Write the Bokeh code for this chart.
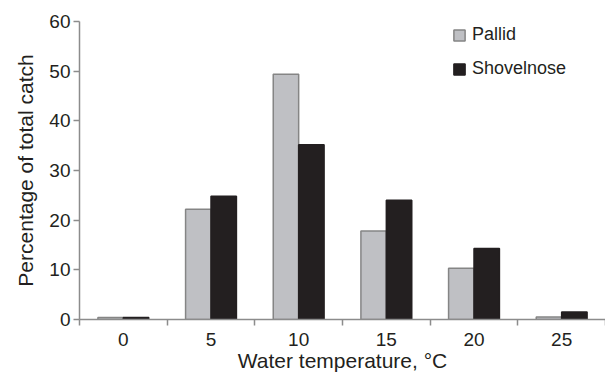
from bokeh.plotting import figure
from bokeh.models import (ColumnDataSource, Range1d, FixedTicker, Legend, LegendItem)
from bokeh.transform import dodge
from bokeh.embed import file_html
from bokeh.resources import INLINE

# Water temperature classes (°C) and percentage of total catch per species
temps = [0, 5, 10, 15, 20, 25]
pallid = [0.4, 22.2, 49.4, 17.8, 10.3, 0.5]
shovelnose = [0.4, 24.8, 35.2, 24.0, 14.3, 1.5]
y_ticks = [0, 10, 20, 30, 40, 50, 60]

FONT = "Liberation Sans"
TEXT = "#231f20"
AXIS = "#8c8c8c"

src = ColumnDataSource(dict(temp=temps, pallid=pallid, shovelnose=shovelnose))

step = temps[1] - temps[0]
p = figure(width=605, height=374, output_backend="svg", toolbar_location=None,
           x_range=Range1d(temps[0] - step / 2, temps[-1] + step / 2),
           y_range=Range1d(0, 60),
           min_border_left=79, min_border_right=0, min_border_top=21,
           min_border_bottom=53)
p.outline_line_color = None
p.xgrid.visible = False
p.ygrid.visible = False
p.background_fill_color = "white"
p.border_fill_color = "white"

bw = 1.45
r1 = p.vbar(x=dodge("temp", -bw / 2, range=p.x_range), top="pallid", width=bw,
            source=src, fill_color="#bfc0c4", line_color="#858585", line_width=1.5)
r2 = p.vbar(x=dodge("temp", bw / 2, range=p.x_range), top="shovelnose", width=bw,
            source=src, fill_color="#231f20", line_color="#231f20", line_width=1.5)

# x axis: labels at class centres, short ticks at class boundaries
xa = p.xaxis[0]
xa.ticker = FixedTicker(ticks=temps,
                        minor_ticks=[t - step / 2 for t in temps] + [temps[-1] + step / 2])
xa.major_tick_out = 0
xa.major_tick_in = 0
xa.minor_tick_out = 6
xa.minor_tick_in = 0
xa.minor_tick_line_color = AXIS
xa.minor_tick_line_width = 1.5
xa.axis_line_color = AXIS
xa.axis_line_width = 1.5
xa.major_label_standoff = 7
xa.major_label_text_font = FONT
xa.major_label_text_font_size = "19px"
xa.major_label_text_color = TEXT
xa.axis_label = "Water temperature, °C"
xa.axis_label_text_font = FONT
xa.axis_label_text_font_size = "21px"
xa.axis_label_text_font_style = "normal"
xa.axis_label_text_color = TEXT
xa.axis_label_standoff = 0

ya = p.yaxis[0]
ya.ticker = FixedTicker(ticks=y_ticks, minor_ticks=[])
ya.major_tick_out = 6
ya.major_tick_in = 0
ya.major_tick_line_color = AXIS
ya.major_tick_line_width = 1.5
ya.axis_line_color = AXIS
ya.axis_line_width = 1.5
ya.major_label_standoff = 3
ya.major_label_text_font = FONT
ya.major_label_text_font_size = "19px"
ya.major_label_text_color = TEXT
ya.axis_label = "Percentage of total catch"
ya.axis_label_text_font = FONT
ya.axis_label_text_font_size = "21px"
ya.axis_label_text_font_style = "normal"
ya.axis_label_text_color = TEXT
ya.axis_label_standoff = 9

legend = Legend(items=[LegendItem(label="Pallid", renderers=[r1]),
                       LegendItem(label="Shovelnose", renderers=[r2])],
                location=(373, 240), orientation="vertical",
                glyph_width=14, glyph_height=14, label_height=20, label_width=60,
                label_standoff=6, spacing=13, padding=0, margin=0,
                border_line_color=None, background_fill_alpha=0,
                label_text_font=FONT, label_text_font_size="18px",
                label_text_color=TEXT)
p.add_layout(legend)

open("out.html", "w").write(file_html(p, INLINE))
